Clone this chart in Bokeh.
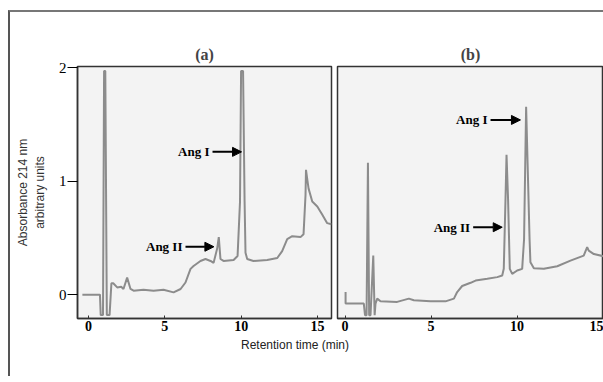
from bokeh.plotting import figure
from bokeh.layouts import row, column
from bokeh.models import Range1d, FixedTicker, Label, Arrow, NormalHead, Div
from bokeh.embed import file_html
from bokeh.resources import INLINE

# ---- data ----
x_ticks = [0, 5, 10, 15]
y_ticks_a = [0, 1, 2]

time_a = [-0.4, 0.75, 0.8, 0.95, 1.02, 1.1, 1.2, 1.38, 1.5, 1.62, 1.88, 2.14, 2.29, 2.53,
          2.75, 2.95, 3.6, 4.26, 4.91, 5.57, 6.03, 6.35, 6.68, 6.88, 7.33, 7.66, 7.99, 8.19,
          8.43, 8.53, 8.64, 8.84, 9.5, 9.76, 9.92, 9.99, 10.12, 10.22, 10.28, 10.39, 10.8,
          11.7, 12.36, 12.68, 13.01, 13.34, 13.88, 14.08, 14.21, 14.24, 14.34, 14.41, 14.65,
          14.98, 15.3, 15.63, 15.91]
absorb_a = [0.0, 0.0, -0.18, -0.18, 1.97, 1.97, -0.18, -0.18, 0.10, 0.10, 0.064, 0.07, 0.05,
            0.15, 0.05, 0.035, 0.044, 0.035, 0.044, 0.02, 0.05, 0.107, 0.227, 0.253, 0.297,
            0.314, 0.297, 0.28, 0.41, 0.507, 0.314, 0.297, 0.306, 0.34, 0.82, 1.97, 1.97,
            0.82, 0.37, 0.314, 0.297, 0.306, 0.323, 0.384, 0.49, 0.515, 0.507, 0.533, 0.88,
            1.10, 1.0, 0.934, 0.82, 0.777, 0.707, 0.63, 0.62]

time_b = [0.03, 0.03, 1.09, 1.16, 1.25, 1.33, 1.40, 1.48, 1.64, 1.72, 1.77, 1.87, 2.06, 3.03,
          3.71, 4.0, 4.97, 5.84, 6.33, 6.52, 6.81, 7.3, 7.59, 8.27, 8.85, 9.14, 9.23, 9.33,
          9.39, 9.48, 9.58, 9.72, 10.01, 10.3, 10.41, 10.53, 10.64, 10.73, 10.78, 10.98,
          11.56, 12.34, 13.11, 13.88, 14.08, 14.17, 14.47, 15.05]
absorb_b = [0.006, -0.096, -0.096, -0.198, -0.198, 1.144, -0.198, -0.198, 0.326, -0.198,
            -0.096, -0.052, -0.076, -0.081, -0.052, -0.067, -0.076, -0.076, -0.052, 0.006,
            0.059, 0.087, 0.107, 0.122, 0.137, 0.151, 0.21, 0.82, 1.214, 0.82, 0.21, 0.166,
            0.195, 0.21, 0.47, 1.636, 0.996, 0.47, 0.268, 0.216, 0.21, 0.233, 0.282, 0.326,
            0.4, 0.37, 0.34, 0.32]

SERIF = "Liberation Serif"
SANS = "Liberation Sans"
TRACE = "#8c8c8c"


def style(p):
    p.background_fill_color = "#f3f3f3"
    p.border_fill_color = "white"
    p.outline_line_color = "#333333"
    p.outline_line_width = 1.5
    p.xgrid.visible = False
    p.ygrid.visible = False
    ax = p.xaxis[0]
    ax.ticker = FixedTicker(ticks=x_ticks)
    ax.major_label_text_font = SERIF
    ax.major_label_text_font_style = "bold"
    ax.major_label_text_font_size = "14px"
    ax.major_label_text_color = "black"
    ax.major_tick_in = 3
    ax.major_tick_out = 0
    ax.minor_tick_line_color = None
    ax.major_label_standoff = 2
    ax.axis_line_color = "#333333"
    ax.axis_line_width = 1.5
    ax.major_tick_line_color = "#333333"
    p.title.text_font = SERIF
    p.title.text_font_style = "bold"
    p.title.text_font_size = "16px"
    p.title.align = "center"
    p.title.standoff = 7


def annotate(p, text, x0, x1, y):
    p.add_layout(Arrow(x_start=x0, y_start=y, x_end=x1, y_end=y, line_width=2,
                       line_color="black",
                       end=NormalHead(size=9, fill_color="black", line_color="black")))
    p.add_layout(Label(x=x0, y=y, text=text, text_align="right", text_baseline="middle",
                       x_offset=-3, text_font=SERIF, text_font_style="bold",
                       text_font_size="13px", text_color="black"))


# ---- panel (a) ----
pa = figure(width=325, height=326, x_range=Range1d(-0.72, 15.91), y_range=Range1d(-0.21, 2.01),
            min_border_left=67, min_border_right=4, min_border_top=52, min_border_bottom=20,
            toolbar_location=None, output_backend="svg", title="(a)")
style(pa)
ya = pa.yaxis[0]
ya.ticker = FixedTicker(ticks=y_ticks_a)
ya.major_label_text_font = SERIF
ya.major_label_text_font_size = "15px"
ya.major_label_text_color = "black"
ya.major_tick_out = 10
ya.major_tick_in = 0
ya.minor_tick_line_color = None
ya.major_label_standoff = 1
ya.axis_line_color = "#333333"
ya.axis_line_width = 1.5
ya.axis_label = "Absorbance 214 nm\narbitrary units"
ya.axis_label_text_font = SANS
ya.axis_label_text_font_style = "normal"
ya.axis_label_text_font_size = "12px"
ya.axis_label_text_color = "#333333"
ya.axis_label_standoff = 9

pa.line(time_a, absorb_a, line_color=TRACE, line_width=2)
annotate(pa, "Ang I", 8.12, 10.02, 1.258)
annotate(pa, "Ang II", 6.35, 8.21, 0.422)

# ---- panel (b) ----
pb = figure(width=268, height=326, x_range=Range1d(-0.44, 15.03), y_range=Range1d(-0.227, 1.99),
            min_border_left=2, min_border_right=0, min_border_top=54, min_border_bottom=18,
            y_axis_location=None, toolbar_location=None, output_backend="svg", title="(b)")
style(pb)
pb.title.offset = 7
pb.line(time_b, absorb_b, line_color=TRACE, line_width=2)
annotate(pb, "Ang I", 8.46, 10.2, 1.52)
annotate(pb, "Ang II", 7.45, 9.14, 0.576)

xlabel = Div(text="Retention time (min)", width=560, height=28,
             styles={"text-align": "center", "font-family": SANS, "font-size": "12px",
                     "color": "#222222", "line-height": "14px",
                     "position": "relative", "top": "-5px"})

layout = column(row(pa, pb, spacing=0), xlabel, spacing=0,
                styles={"border-top": "2px solid #777777", "border-left": "2px solid #555555",
                        "margin-top": "10px", "margin-left": "8px"})

open("out.html", "w").write(file_html(layout, INLINE))
